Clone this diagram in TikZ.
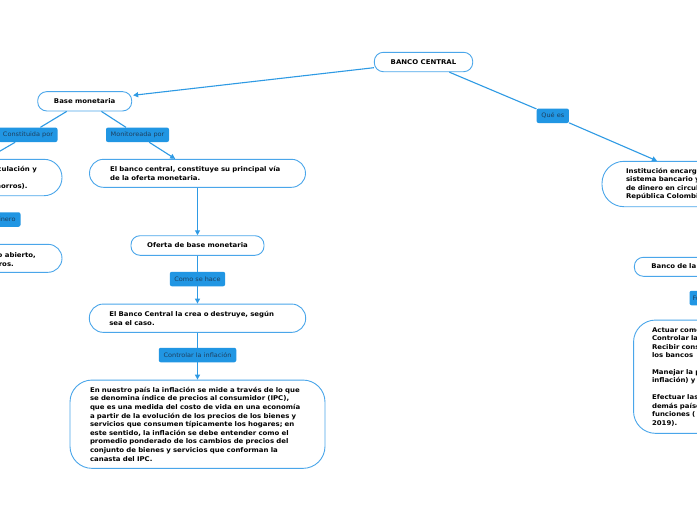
\documentclass[tikz,border=0pt]{standalone}
\usepackage{fontspec}
\setmainfont{DejaVu Sans}[FakeStretch=1.07]
\usetikzlibrary{arrows.meta,calc}
\definecolor{edgeblue}{HTML}{4AA6EA}
\definecolor{connblue}{HTML}{2E9AE4}
\definecolor{lblfill}{HTML}{2196E3}
\definecolor{lbltext}{HTML}{1D3F5E}
\begin{document}
\begin{tikzpicture}[x=1pt,y=-1pt,
  box/.style={draw=edgeblue, line width=0.9pt, fill=white,
    font=\bfseries\fontsize{6.5}{8.6}\selectfont, align=left, inner ysep=0pt},
  plain/.style={font=\bfseries\fontsize{6.5}{8.6}\selectfont, inner sep=0pt},
  lbl/.style={fill=lblfill, rounded corners=2pt, text=lbltext,
    font=\fontsize{6.1}{7}\selectfont, inner xsep=3pt, inner ysep=0pt,
    minimum height=14.5pt},
  cn/.style={draw=connblue, line width=1.1pt},
  cna/.style={cn, -{Triangle[length=5pt,width=5pt]}}
]
\useasboundingbox (0,0) rectangle (697,520);
\fill[white] (0,0) rectangle (697,520);
\clip (0,0) rectangle (697,520);

% main nodes
\node[box, rounded corners=9pt, align=center, minimum width=98.4pt, minimum height=19.4pt] (bc) at (423.5,62) {BANCO CENTRAL};
\node[box, rounded corners=9pt, align=center, minimum width=94pt, minimum height=19.3pt] (bm) at (84.7,101.3) {Base monetaria};

\node[box, rounded corners=18pt, minimum width=182pt, minimum height=36.4pt] (l1) at (-29,177.5) {};
\node[plain, anchor=east] (l1a) at (37,169.3) {circulación y};
\node[plain, anchor=east] (l1b) at (27.7,186.5) {(ahorros).};

\node[box, rounded corners=14pt, minimum width=182pt, minimum height=28pt] (l2) at (-29,258.3) {};
\node[plain, anchor=east] (l2a) at (36,255.5) {mercado abierto,};
\node[plain, anchor=east] (l2b) at (14,264) {otros.};

\node[box, rounded corners=14pt, text width=174.6pt, inner xsep=20.7pt, minimum height=28pt] (ebc) at (197.5,173.3)
  {El banco central, constituye su principal vía\\de la oferta monetaria.};
\node[box, rounded corners=9pt, align=center, minimum width=133pt, minimum height=19.6pt] (oferta) at (197.5,245.5) {Oferta de base monetaria};
\node[box, rounded corners=14pt, text width=176.4pt, inner xsep=20pt, minimum height=28.3pt] (crea) at (197.5,318.2)
  {El Banco Central la crea o destruye, según\\sea el caso.};
\node[box, rounded corners=22pt, text width=215pt, inner xsep=20pt, minimum height=88.3pt] (big) at (197.5,424.2)
  {En nuestro país la inflación se mide a través de lo que\\
   se denomina índice de precios al consumidor (IPC),\\
   que es una medida del costo de vida en una economía\\
   a partir de la evolución de los precios de los bienes y\\
   servicios que consumen típicamente los hogares; en\\
   este sentido, la inflación se debe entender como el\\
   promedio ponderado de los cambios de precios del\\
   conjunto de bienes y servicios que conforman la\\
   canasta del IPC.};

\node[box, rounded corners=22pt, text width=150pt, inner xsep=24pt, minimum height=45.4pt] (inst) at (701,184)
  {Institución encargada\\sistema bancario y\\de dinero en circulación\\República Colombiana};
\node[box, rounded corners=9pt, text width=131.7pt, inner xsep=17pt, minimum height=19pt] (brep) at (717.2,266.8) {Banco de la República};
\node[box, rounded corners=22pt, text width=129.5pt, inner xsep=18.5pt, minimum height=113.3pt,
  font=\bfseries\fontsize{6.5}{8.45}\selectfont] (fun) at (716.8,376.7)
  {Actuar como\\Controlar la\\Recibir consignaciones\\los bancos\\[8.45pt]
   Manejar la política\\inflación) y\\[8.45pt]
   Efectuar las\\demás países\\funciones (\\2019).};

% labels
\node[lbl, minimum width=59pt] (cp) at (28,134.8) {Constituida por};
\node[lbl, minimum width=63pt] (mp) at (137.5,134.8) {Monitoreada por};
\node[lbl, anchor=east, inner xsep=5pt] (din) at (20.7,219.5) {Dinero};
\node[lbl, minimum width=55.3pt] (como) at (197.5,279) {Como se hace};
\node[lbl, minimum width=77.5pt] (ctrl) at (197.5,355) {Controlar la inflación};
\node[lbl, minimum width=32.3pt] (qe) at (552.8,115.8) {Qué es};
\node[lbl, anchor=west] (fl) at (689.3,298) {Funciones};

% connectors
\draw[cna] ([yshift=-5.7pt]bc.west) -- ([xshift=1pt,yshift=6pt]bm.east);
\draw[cn] ([xshift=25.8pt]bc.south) -- (qe);
\draw[cna] (qe) -- ([xshift=-44pt]inst.north);
\draw[cn] ([xshift=-18pt]bm.south) -- (cp);
\draw[cna] (cp) -- ([xshift=15.6pt]l1.north);
\draw[cn] ([xshift=16.7pt]bm.south) -- (mp);
\draw[cna] (mp) -- ([xshift=-22.3pt]ebc.north);
\draw[cna] (ebc.south) -- (oferta.north);
\draw[cn] (oferta.south) -- (como);
\draw[cna] (como) -- (crea.north);
\draw[cn] (crea.south) -- (ctrl);
\draw[cna] (ctrl) -- (big.north);
\end{tikzpicture}
\end{document}
